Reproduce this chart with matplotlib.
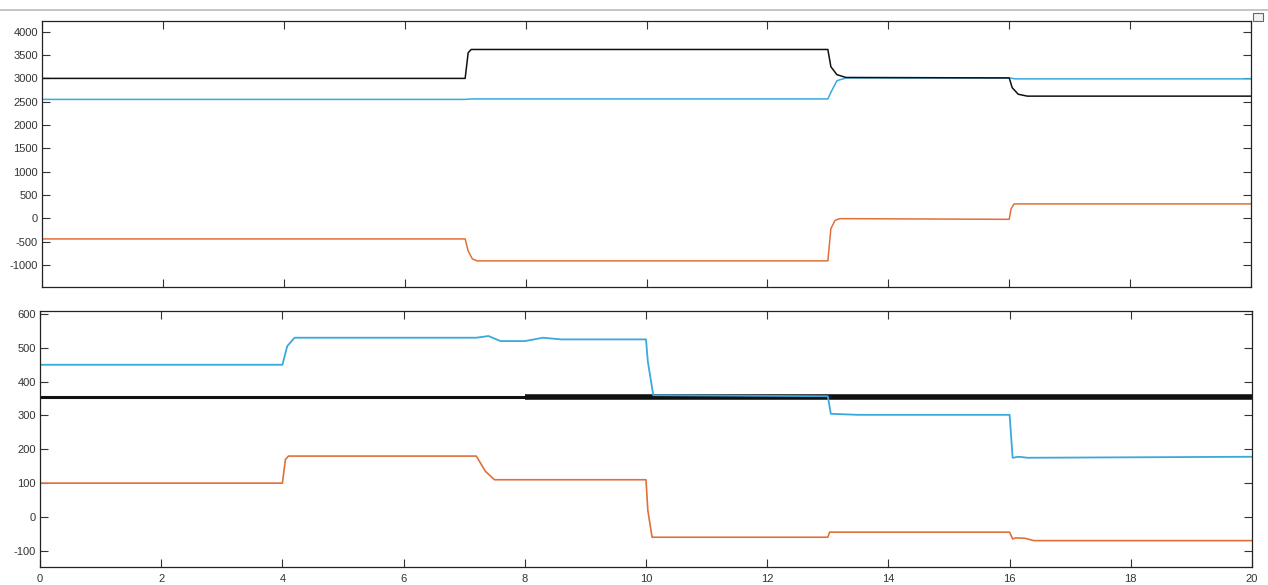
import matplotlib
matplotlib.use("Agg")
import matplotlib.pyplot as plt
from matplotlib.lines import Line2D
from matplotlib.patches import Rectangle

# ---------------- data (knots) ----------------
# Top panel
top_black_t = [0, 7.0, 7.05, 7.1, 13.0, 13.05, 13.15, 13.3, 16.0, 16.05, 16.15, 16.3, 20]
top_black_v = [3000, 3000, 3550, 3620, 3620, 3250, 3080, 3020, 3010, 2800, 2660, 2620, 2620]

top_cyan_t = [0, 7.0, 7.1, 13.0, 13.05, 13.15, 13.3, 16.0, 16.1, 20]
top_cyan_v = [2550, 2550, 2560, 2560, 2700, 2950, 3010, 3010, 2990, 2990]

top_orange_t = [0, 7.0, 7.05, 7.12, 7.2, 13.0, 13.05, 13.12, 13.2, 16.0, 16.03, 16.08, 20]
top_orange_v = [-440, -440, -700, -870, -910, -910, -220, -40, -5, -20, 200, 310, 310]

# Bottom panel
bot_cyan_t = [0, 4.0, 4.08, 4.2, 7.2, 7.4, 7.6, 8.0, 8.3, 8.6, 10.0, 10.03, 10.12, 13.0, 13.05, 13.5, 16.0, 16.05, 16.15, 16.3, 20]
bot_cyan_v = [450, 450, 505, 530, 530, 535, 520, 520, 530, 525, 525, 460, 360, 357, 305, 302, 302, 175, 178, 175, 178]

bot_black_t = [0, 20]
bot_black_v = [355, 355]
bot_black_noise_split = 8.0   # noise band grows after t = 8

bot_orange_t = [0, 4.0, 4.05, 4.1, 7.2, 7.35, 7.5, 10.0, 10.03, 10.1, 13.0, 13.03, 16.0, 16.05, 16.1, 16.25, 16.4, 20]
bot_orange_v = [100, 100, 170, 180, 180, 135, 110, 110, 20, -60, -60, -45, -45, -65, -62, -63, -70, -70]

x_ticks = [0, 2, 4, 6, 8, 10, 12, 14, 16, 18, 20]
top_yticks = [-1000, -500, 0, 500, 1000, 1500, 2000, 2500, 3000, 3500, 4000]
bot_yticks = [-100, 0, 100, 200, 300, 400, 500, 600]

# ---------------- styling ----------------
CYAN = "#3aa9dc"
ORANGE = "#e0703a"
BLACK = "#111111"

plt.rcParams["font.family"] = ["Liberation Sans", "DejaVu Sans"]
fig = plt.figure(figsize=(12.68, 5.85), dpi=100)

W, H = 1268, 585
def rect(l, t, r, b):
    return [l / W, 1 - b / H, (r - l) / W, (b - t) / H]

ax1 = fig.add_axes(rect(42, 21, 1251, 287))
ax2 = fig.add_axes(rect(40, 311, 1252, 567))

def style(ax):
    ax.set_xlim(0, 20)
    ax.set_xticks(x_ticks)
    ax.tick_params(direction="in", top=True, right=True, length=6, width=0.8,
                   labelsize=8, colors="#333333", pad=3)
    for s in ax.spines.values():
        s.set_linewidth(0.9)
        s.set_color("#222222")

# top
ax1.plot(top_cyan_t, top_cyan_v, color=CYAN, lw=1.1)
ax1.plot(top_orange_t, top_orange_v, color=ORANGE, lw=1.1)
ax1.plot(top_black_t, top_black_v, color=BLACK, lw=1.1)
style(ax1)
ax1.set_ylim(-1470, 4230)
ax1.set_yticks(top_yticks)
ax1.set_yticklabels([str(v) for v in top_yticks])
ax1.tick_params(labelbottom=False)

# bottom
ax2.plot(bot_orange_t, bot_orange_v, color=ORANGE, lw=1.2)
ax2.plot([bot_black_t[0], bot_black_noise_split], [bot_black_v[0], bot_black_v[0]],
         color=BLACK, lw=2.2, solid_capstyle="butt")
ax2.plot([bot_black_noise_split, bot_black_t[-1]], [bot_black_v[-1], bot_black_v[-1]],
         color=BLACK, lw=4.0, solid_capstyle="butt")
ax2.plot(bot_cyan_t, bot_cyan_v, color=CYAN, lw=1.3)
style(ax2)
ax2.set_ylim(-148, 609)
ax2.set_yticks(bot_yticks)
ax2.set_yticklabels([str(v) for v in bot_yticks])
ax2.tick_params(axis="x", pad=5)

# thin gray line at top of the figure and small icon box
fig.add_artist(Line2D([0, 1], [1 - 10 / H, 1 - 10 / H], color="#bbbbbb", lw=1.2))
fig.add_artist(Rectangle((1253 / W, 1 - 21 / H), 10 / W, 8 / H, facecolor="#f2f2f2",
                         edgecolor="#666666", lw=0.8))

fig.savefig("out.png", dpi=100, facecolor="white")
